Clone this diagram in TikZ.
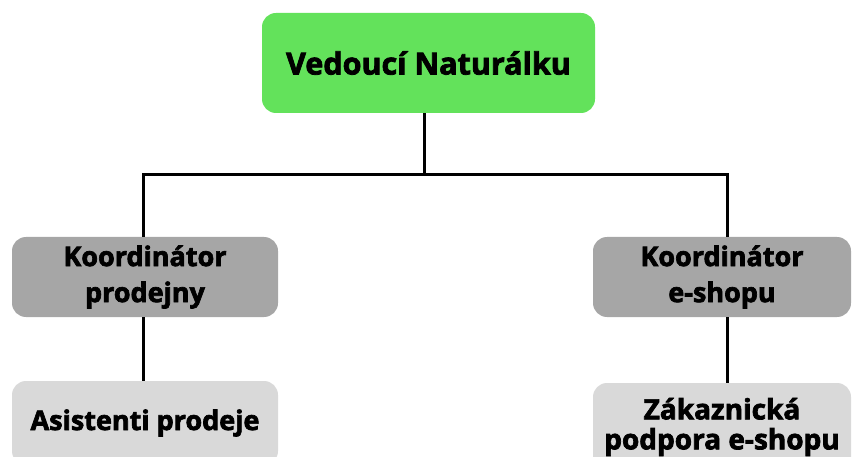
\documentclass[tikz,border=0pt]{standalone}
\usepackage{fontspec}
\setmainfont{Open Sans}[BoldFeatures={FakeBold=2.5}]
\definecolor{topgreen}{RGB}{99,226,91}
\definecolor{midgrey}{RGB}{166,166,166}
\definecolor{lowgrey}{RGB}{217,217,217}
\begin{document}
\begin{tikzpicture}[x=1pt,y=-1pt,
  box/.style={rounded corners=14pt, inner sep=0pt, align=center, font=\bfseries},
  topbox/.style={box, fill=topgreen, minimum width=333pt, minimum height=100pt, font=\fontsize{30.5}{38}\selectfont\bfseries},
  midbox/.style={box, fill=midgrey, minimum width=266pt, minimum height=80pt, font=\fontsize{27}{36}\selectfont\bfseries},
  lowbox/.style={box, fill=lowgrey, minimum width=266pt, font=\fontsize{27}{36}\selectfont\bfseries},
  link/.style={line width=3pt}]
\useasboundingbox (0,0) rectangle (854,457);
\clip (0,0) rectangle (854,457);
\node[topbox] (top) at (428.5,63) {Vedoucí Naturálku};
\node[midbox] (kp) at (145,277) {Koordinátor\\prodejny};
\node[midbox, minimum width=258pt] (ke) at (722,277) {Koordinátor\\e-shopu};
\node[lowbox, minimum height=84pt] (ap) at (145,423) {Asistenti prodeje};
\node[lowbox, minimum width=258pt, minimum height=88pt, font=\fontsize{28}{30}\selectfont\bfseries] (zp) at (722,427) {Zákaznická\\podpora e-shopu};
\coordinate (j) at (424,175);
\coordinate (jl) at (143,175);
\coordinate (jr) at (727,175);
\draw[link] (top.south -| j) -- (j);
\draw[link] (kp.north -| jl) -- (jl) -- (jr) -- (ke.north -| jr);
\draw[link] (kp.south -| jl) -- (ap.north -| jl);
\draw[link] (ke.south -| jr) -- (zp.north -| jr);
\end{tikzpicture}
\end{document}
